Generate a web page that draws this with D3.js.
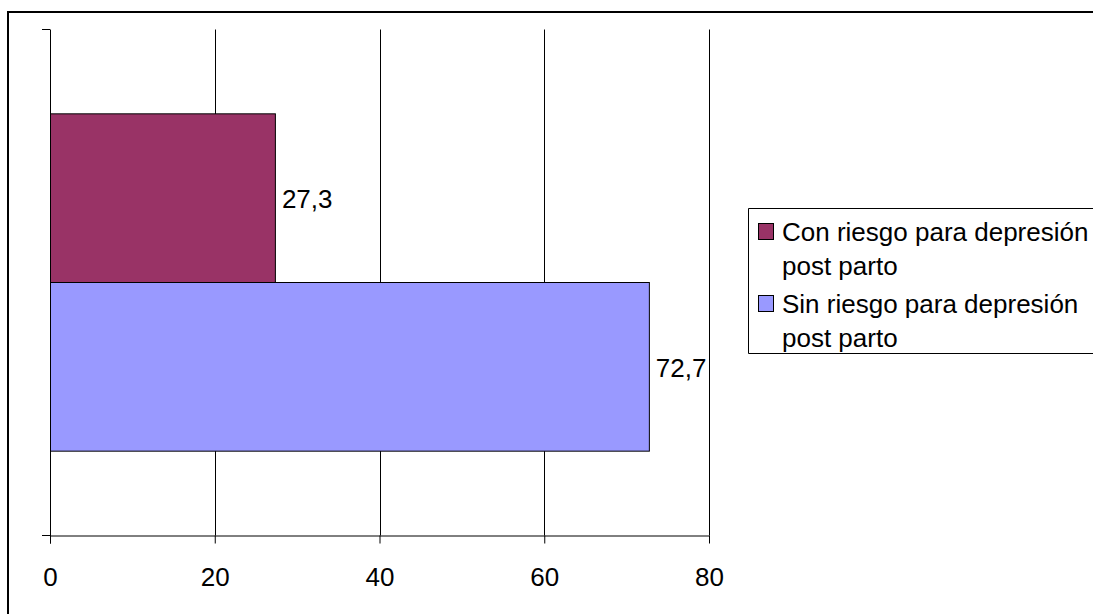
<!DOCTYPE html>
<html>
<head>
<meta charset="utf-8">
<script src="https://cdn.jsdelivr.net/npm/d3@7"></script>
<style>
  html, body { margin: 0; padding: 0; background: #fff; overflow: hidden; }
  svg { display: block; font-family: "Liberation Sans", Arial, sans-serif; }
</style>
</head>
<body>
<svg id="chart" width="1093" height="614"></svg>
<script>
// Series: postpartum depression risk screening (%)
const seriesNames = ["Con riesgo para depresión post parto", "Sin riesgo para depresión post parto"];
const seriesLegendLines = [["Con riesgo para depresión", "post parto"], ["Sin riesgo para depresión", "post parto"]];
const seriesValues = [27.3, 72.7];
const seriesColors = ["#993366", "#9999FF"];
const xTicks = [0, 20, 40, 60, 80];

const W = 1093, H = 614;
const svg = d3.select("#chart");
const fmt = v => String(v).replace(".", ",");

// Outer frame: only the top and left edges fall inside the canvas
svg.append("path")
  .attr("d", `M8,${H} V12 H${W}`)
  .attr("fill", "none").attr("stroke", "#000").attr("stroke-width", 2);

const plot = { left: 50, right: 709, top: 29.5, bottom: 535.5 };

const x = d3.scaleLinear().domain([0, 80]).range([plot.left, plot.right]);
const y = d3.scaleBand()
  .domain(seriesNames)
  .range([plot.top, plot.bottom])
  .paddingInner(0)
  .paddingOuter(0.5);

// Vertical gridlines
svg.append("g")
  .selectAll("line")
  .data(xTicks.slice(1))
  .join("line")
  .attr("x1", d => Math.round(x(d)) + 0.5)
  .attr("x2", d => Math.round(x(d)) + 0.5)
  .attr("y1", plot.top)
  .attr("y2", plot.bottom)
  .attr("stroke", "#000")
  .attr("stroke-width", 1);

// Bars
svg.append("g")
  .selectAll("rect")
  .data(seriesNames.map((n, i) => ({ name: n, value: seriesValues[i], color: seriesColors[i] })))
  .join("rect")
  .attr("x", x(0) + 0.5)
  .attr("y", d => y(d.name))
  .attr("width", d => x(d.value) - x(0))
  .attr("height", y.bandwidth())
  .attr("fill", d => d.color)
  .attr("stroke", "#000")
  .attr("stroke-width", 1);

// Value labels
svg.append("g")
  .selectAll("text")
  .data(seriesNames.map((n, i) => ({ name: n, value: seriesValues[i] })))
  .join("text")
  .attr("x", d => x(d.value) + 7)
  .attr("y", d => y(d.name) + y.bandwidth() / 2 + 10)
  .attr("font-size", 26)
  .attr("fill", "#000")
  .text(d => fmt(d.value));

// X axis
const xAxis = svg.append("g")
  .attr("transform", `translate(0,${plot.bottom})`)
  .call(d3.axisBottom(x).tickValues(xTicks).tickSize(8).tickSizeOuter(0).tickPadding(24));
xAxis.select(".domain").attr("stroke", "#000");
xAxis.selectAll(".tick line").attr("stroke", "#000");
xAxis.selectAll(".tick text")
  .attr("font-size", 26)
  .attr("font-family", "'Liberation Sans', Arial, sans-serif")
  .attr("fill", "#000");

// Y axis (category band edges)
const yAxis = svg.append("g");
yAxis.append("line")
  .attr("x1", plot.left + 0.5).attr("x2", plot.left + 0.5)
  .attr("y1", plot.top).attr("y2", plot.bottom + 8)
  .attr("stroke", "#000");
yAxis.selectAll("line.tick")
  .data(y.range())
  .join("line")
  .attr("class", "tick")
  .attr("x1", plot.left - 8).attr("x2", plot.left)
  .attr("y1", d => d).attr("y2", d => d)
  .attr("stroke", "#000");

// Legend: box runs off the right edge of the canvas
const legend = svg.append("g");
legend.append("rect")
  .attr("x", 748.5).attr("y", 208.5)
  .attr("width", W - 748.5).attr("height", 145)
  .attr("fill", "#fff");
legend.append("path")
  .attr("d", `M${W},208.5 H748.5 V353.5 H${W}`)
  .attr("fill", "none").attr("stroke", "#000");

const items = legend.selectAll("g.item")
  .data(seriesLegendLines.map((lines, i) => ({ lines, color: seriesColors[i] })))
  .join("g")
  .attr("class", "item")
  .attr("transform", (d, i) => `translate(0,${i * 72})`);

items.append("rect")
  .attr("x", 758.5).attr("y", 223.5)
  .attr("width", 15).attr("height", 16)
  .attr("fill", d => d.color)
  .attr("stroke", "#000");

items.append("text")
  .attr("font-size", 26)
  .attr("fill", "#000")
  .selectAll("tspan")
  .data(d => d.lines)
  .join("tspan")
  .attr("x", 782)
  .attr("y", (d, j) => 241 + j * 34)
  .text(d => d);
</script>
</body>
</html>
